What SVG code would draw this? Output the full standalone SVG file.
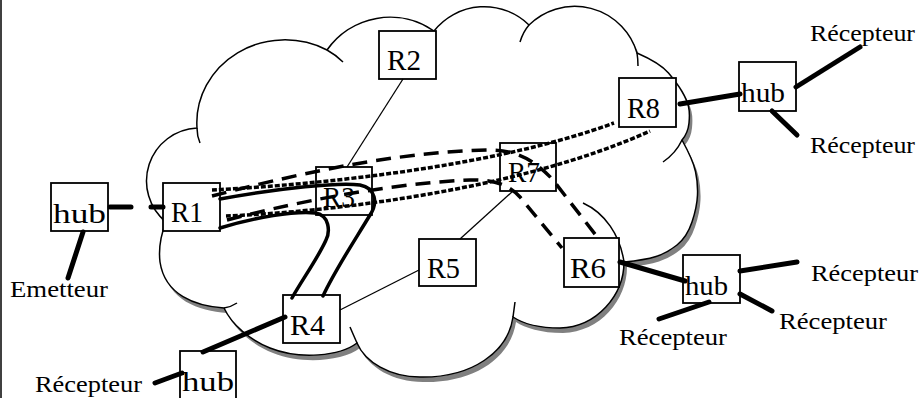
<svg xmlns="http://www.w3.org/2000/svg" width="923" height="398" viewBox="0 0 923 398">
<defs>
<style>
.box{fill:#fff;stroke:#000;stroke-width:1.8}
text{font-family:'Liberation Serif',serif;fill:#000}
.lbl{font-size:30px}
.hubt{font-size:28px}
.txt{font-size:24px}
.thick{stroke:#000;stroke-width:5;stroke-linecap:round;fill:none}
.thin{stroke:#000;stroke-width:1.3;fill:none}
.curve{stroke:#000;stroke-width:3.5;fill:none;stroke-linecap:round}
.dash{stroke:#000;stroke-width:3.5;fill:none;stroke-dasharray:15 9}
.dot{stroke:#000;stroke-width:3.5;fill:none;stroke-dasharray:5 2}
.cl{fill:none;stroke:#000;stroke-width:1.5}
</style>
<path id="cloudShape" d="M166,222 A53,53 0 0 1 197,128 A88,83 0 0 1 327,50 A77,77 0 0 1 434,31 A64,64 0 0 1 529,25 A65,65 0 0 1 637,53 Q660,63 668.5,73 Q677,83 682,91.5 Q687,100 688.5,106.5 Q690,113 689,123 Q688,133 682,140 Q693,160 695.5,171.5 Q698,183 697.5,195 Q697,207 692,222 Q687,237 677,245 Q667,253 656,256.5 Q645,260 624,262 C624,295 597,327 560,328 C538,328 522,323 513,317 C508,352 472,378 420,377 C390,377 365,362 357,343 C340,356 300,360 270,348 C250,340 232,325 224,308 C195,306 165,295 160,262 C158,245 162,232 166,222 Z"/>
</defs>
<line x1="1" y1="0" x2="1" y2="398" stroke="#000" stroke-width="1.5"/>
<g id="cloud">
<use href="#cloudShape" transform="translate(3,5)" fill="#808080"/>
<use href="#cloudShape" fill="#fff"/>
<use href="#cloudShape" class="cl"/>
<path class="cl" d="M197,128 Q197,136 200,143 M327,50 Q336,55 343,62 M520,42 Q523,32 529,25 M637,53 Q638,59 638,66 M682,140 Q676,153 663,162 M583,203 C605,213 620,235 624,262 M515,302 L513,317 M357,343 Q353,334 350,327 M224,308 Q231,307 237,303"/>
</g>
<g id="nodes">
<g id="hub-emetteur"><rect class="box" x="51" y="183" width="57" height="48"/><text class="hubt" x="53" y="223" textLength="53" lengthAdjust="spacingAndGlyphs">hub</text></g>
<g id="R1"><rect class="box" x="163" y="183" width="57" height="48"/><text class="lbl" x="171" y="222" textLength="32" lengthAdjust="spacingAndGlyphs">R1</text></g>
<g id="R2"><rect class="box" x="379" y="31" width="57" height="48"/><text class="lbl" x="387" y="70" textLength="34" lengthAdjust="spacingAndGlyphs">R2</text></g>
<g id="R3"><rect class="box" x="316" y="167" width="56" height="48"/><text class="lbl" x="323" y="207" textLength="32" lengthAdjust="spacingAndGlyphs">R3</text></g>
<g id="R4"><rect class="box" x="283" y="295" width="57" height="48"/><text class="lbl" x="290" y="335" textLength="35" lengthAdjust="spacingAndGlyphs">R4</text></g>
<g id="R5"><rect class="box" x="419" y="239" width="57" height="47"/><text class="lbl" x="427" y="278" textLength="33" lengthAdjust="spacingAndGlyphs">R5</text></g>
<g id="R6"><rect class="box" x="564" y="238" width="55" height="49"/><text class="lbl" x="570" y="278" textLength="36" lengthAdjust="spacingAndGlyphs">R6</text></g>
<g id="R7"><rect class="box" x="500" y="143" width="56" height="48"/><text class="lbl" x="508" y="182" textLength="32" lengthAdjust="spacingAndGlyphs">R7</text></g>
<g id="R8"><rect class="box" x="619" y="78" width="57" height="49"/><text class="lbl" x="627" y="118" textLength="33" lengthAdjust="spacingAndGlyphs">R8</text></g>
<g id="hub-R8"><rect class="box" x="739" y="62" width="57" height="49"/><text class="hubt" x="741" y="102" textLength="44" lengthAdjust="spacingAndGlyphs">hub</text></g>
<g id="hub-R6"><rect class="box" x="683" y="255" width="57" height="48"/><text class="hubt" x="685" y="295" textLength="43" lengthAdjust="spacingAndGlyphs">hub</text></g>
<g id="hub-R4"><rect class="box" x="180" y="351" width="56" height="52"/><text class="hubt" x="182" y="391" textLength="52" lengthAdjust="spacingAndGlyphs">hub</text></g>
<g id="emetteur"><text class="txt" x="10" y="297" textLength="98" lengthAdjust="spacingAndGlyphs">Emetteur</text></g>
<g id="recepteur-1"><text class="txt" x="810" y="41" textLength="105" lengthAdjust="spacingAndGlyphs">Récepteur</text></g>
<g id="recepteur-2"><text class="txt" x="810" y="153" textLength="105" lengthAdjust="spacingAndGlyphs">Récepteur</text></g>
<g id="recepteur-3"><text class="txt" x="811" y="281" textLength="107" lengthAdjust="spacingAndGlyphs">Récepteur</text></g>
<g id="recepteur-4"><text class="txt" x="779" y="329" textLength="108" lengthAdjust="spacingAndGlyphs">Récepteur</text></g>
<g id="recepteur-5"><text class="txt" x="619" y="345" textLength="108" lengthAdjust="spacingAndGlyphs">Récepteur</text></g>
<g id="recepteur-6"><text class="txt" x="35" y="392" textLength="107" lengthAdjust="spacingAndGlyphs">Récepteur</text></g>
</g>
<g id="connectors">
<line class="thick" x1="83" y1="232" x2="68" y2="278"/>
<line class="thick" x1="110" y1="207" x2="163" y2="207" stroke-dasharray="21 20"/>
<line class="thick" x1="680" y1="104" x2="740" y2="94"/>
<line class="thick" x1="796" y1="87" x2="860" y2="47"/>
<line class="thick" x1="772" y1="111" x2="797" y2="135"/>
<line class="thick" x1="620" y1="262" x2="685" y2="281"/>
<line class="thick" x1="740" y1="271" x2="797" y2="262"/>
<line class="thick" x1="740" y1="294" x2="772" y2="311"/>
<line class="thick" x1="709" y1="302" x2="659" y2="319"/>
<line class="thick" x1="285" y1="317" x2="203" y2="352"/>
<line class="thick" x1="182" y1="373" x2="155" y2="383"/>
<line class="thin" x1="403" y1="79" x2="347" y2="167"/>
<line class="thin" x1="340" y1="310" x2="419" y2="270"/>
<line class="thin" x1="460" y1="239" x2="513" y2="191"/>
<path class="curve" d="M220,199 C280,188 340,182 360,185 C376,188 378,203 370,215 C355,240 335,270 323,296"/>
<path class="curve" d="M220,228 C255,217 295,211 315,213 C330,215 330,232 326,240 C318,258 302,280 292,298"/>
<path class="dash" d="M212,196 C290,176 390,152 490,150 C515,150 535,160 553,180 L598,238"/>
<path class="dash" d="M227,220 C280,206 380,184 470,180 C495,179 510,186 520,197 L562,248"/>
<path class="dot" d="M212,190 C330,184 500,165 614,123"/>
<path class="dot" d="M226,216 C330,212 520,190 650,131"/>
</g>
</svg>
